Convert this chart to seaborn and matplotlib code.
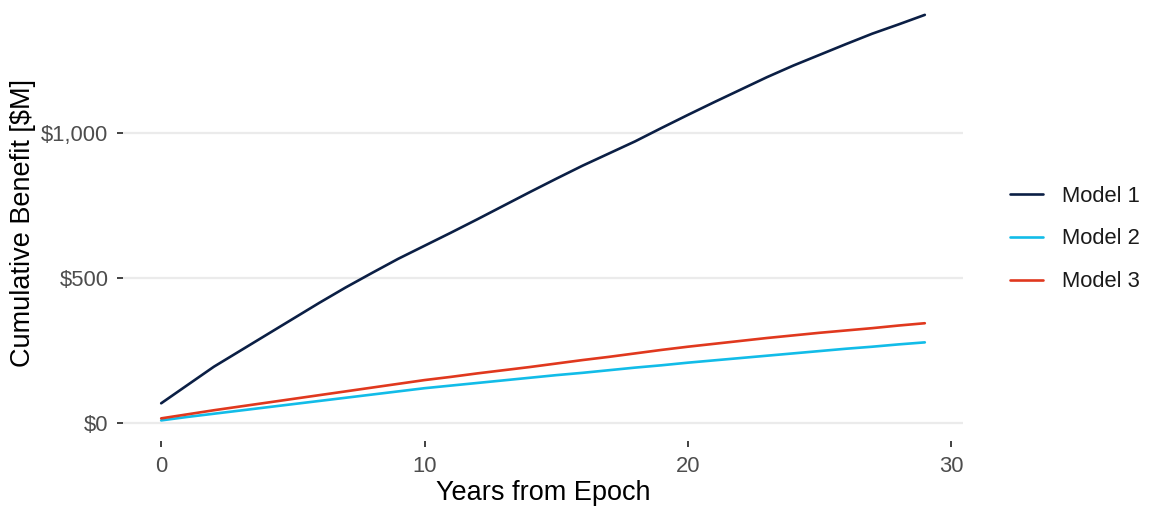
import matplotlib
matplotlib.use("Agg")
import matplotlib.pyplot as plt
from matplotlib.ticker import FuncFormatter
import seaborn as sns
import pandas as pd

# ---------------- Data ----------------
years = list(range(30))

model_1 = [69, 132, 195, 250, 305, 360, 415, 468, 518, 567,
           612, 657, 703, 750, 797, 843, 888, 930, 972, 1018,
           1063, 1107, 1150, 1193, 1233, 1270, 1307, 1343, 1375, 1408]
model_2 = [10, 22, 33, 44, 55, 66, 77, 88, 99, 110,
           121, 130, 139, 148, 157, 166, 174, 183, 192, 200,
           209, 217, 225, 233, 241, 249, 257, 264, 272, 279]
model_3 = [17, 31, 45, 58, 71, 84, 97, 110, 123, 136,
           149, 160, 172, 183, 194, 206, 218, 229, 241, 253,
           264, 274, 284, 294, 303, 312, 320, 328, 337, 345]

model_names = ["Model 1", "Model 2", "Model 3"]
colors = ["#0B1F45", "#12BCE8", "#E0381E"]

df = pd.DataFrame({
    "Years from Epoch": years * 3,
    "Benefit": model_1 + model_2 + model_3,
    "Model": [m for m in model_names for _ in years],
})

# ---------------- Plot ----------------
sns.set_theme(style="white")
plt.rcParams["font.family"] = ["Liberation Sans", "DejaVu Sans"]

fig = plt.figure(figsize=(11.49, 5.08), dpi=100)
ax = fig.add_axes([123 / 1149, 67 / 508, (963 - 123) / 1149, (503 - 67) / 508])

sns.lineplot(data=df, x="Years from Epoch", y="Benefit", hue="Model",
             palette=colors, linewidth=1.9, ax=ax)

ax.set_xlim(-1.45, 30.45)
ax.set_ylim(-61, 1442)
ax.set_xticks([0, 10, 20, 30])
ax.set_yticks([0, 500, 1000])
ax.yaxis.set_major_formatter(FuncFormatter(lambda v, p: f"${v:,.0f}"))

ax.grid(axis="y", color="#EBEBEB", linewidth=1.6)
ax.grid(axis="x", visible=False)
ax.set_axisbelow(True)
for s in ax.spines.values():
    s.set_visible(False)

ax.tick_params(axis="both", which="major", length=4.5, width=1.3,
               color="#333333", labelcolor="#4D4D4D", labelsize=15.8,
               direction="out", pad=6, bottom=True, left=True)

ax.set_xlabel("Years from Epoch", fontsize=19.5, color="black")
ax.set_ylabel("Cumulative Benefit [$M]", fontsize=19.5, color="black")
ax.xaxis.set_label_coords(0.5, -0.09)
ax.yaxis.set_label_coords(-0.104, 0.5)

leg = ax.legend(title=None, frameon=False, fontsize=15.8, loc="center left",
                bbox_to_anchor=(990 / 1149, 269 / 508), bbox_transform=fig.transFigure,
                handlelength=1.5, handletextpad=0.9, labelspacing=1.0)
for t in leg.get_texts():
    t.set_color("#1A1A1A")

fig.savefig("out.png", dpi=100)
